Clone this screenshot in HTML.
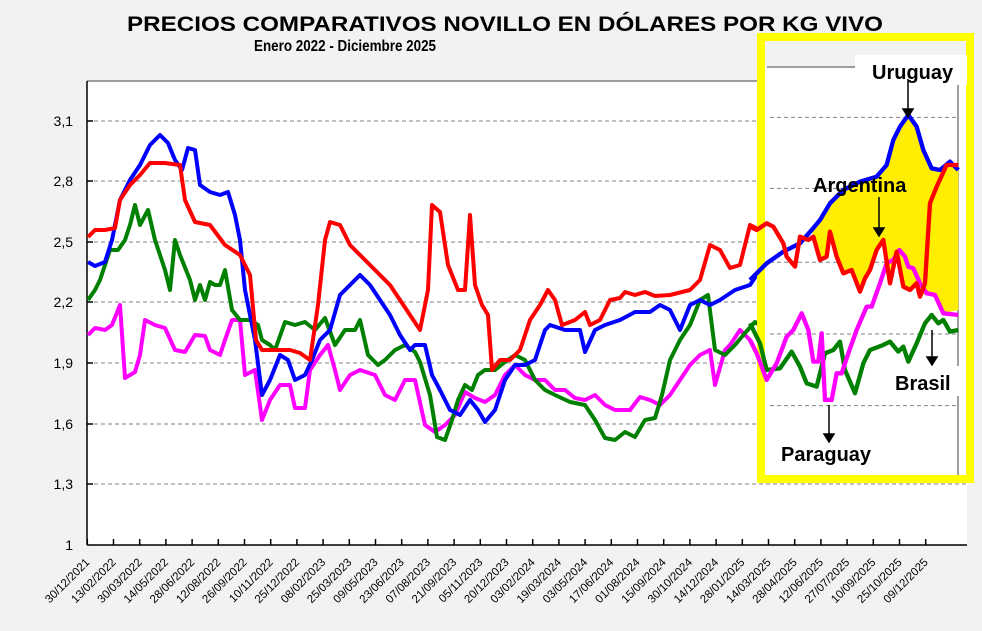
<!DOCTYPE html>
<html><head><meta charset="utf-8"><style>html,body{margin:0;padding:0;background:#f2f2f2}svg{display:block}text{font-family:"Liberation Sans",sans-serif}</style></head>
<body>
<svg width="982" height="631" viewBox="0 0 982 631" xmlns="http://www.w3.org/2000/svg">
<rect width="982" height="631" fill="#f2f2f2"/>
<text x="127" y="31" font-size="21" font-weight="bold" textLength="756" lengthAdjust="spacingAndGlyphs">PRECIOS COMPARATIVOS NOVILLO EN DÓLARES POR KG  VIVO</text>
<text x="254" y="51" font-size="16" font-weight="bold" textLength="182" lengthAdjust="spacingAndGlyphs">Enero  2022 -  Diciembre 2025</text>
<rect x="87" y="81" width="880" height="464" fill="#fff"/>
<line x1="87" y1="81" x2="967" y2="81" stroke="#808080" stroke-width="1.5"/>
<g stroke="#808080" stroke-dasharray="4,3" stroke-width="1">
<line x1="87" y1="121" x2="967" y2="121"/><line x1="87" y1="181" x2="967" y2="181"/><line x1="87" y1="242" x2="967" y2="242"/><line x1="87" y1="302" x2="967" y2="302"/><line x1="87" y1="363" x2="967" y2="363"/><line x1="87" y1="424" x2="967" y2="424"/><line x1="87" y1="484" x2="967" y2="484"/>
</g>
<g stroke="#000" stroke-width="1.5"><line x1="87" y1="81" x2="87" y2="545"/><line x1="87" y1="545" x2="967" y2="545"/>
<line x1="87" y1="121" x2="93" y2="121"/><line x1="87" y1="181" x2="93" y2="181"/><line x1="87" y1="242" x2="93" y2="242"/><line x1="87" y1="302" x2="93" y2="302"/><line x1="87" y1="363" x2="93" y2="363"/><line x1="87" y1="424" x2="93" y2="424"/><line x1="87" y1="484" x2="93" y2="484"/></g>
<g font-size="14" text-anchor="end" fill="#000">
<text x="73" y="126">3,1</text><text x="73" y="186">2,8</text><text x="73" y="247">2,5</text><text x="73" y="307">2,2</text><text x="73" y="368">1,9</text><text x="73" y="429">1,6</text><text x="73" y="489">1,3</text><text x="73" y="550">1</text>
</g>
<g id="xt" font-size="11.5" text-anchor="end" fill="#000"></g>
<g fill="none" stroke-width="4" stroke-linejoin="round">
<polyline stroke="#ff00ff" points="88,335 95,328 105,330 112,325 120,305 125,378 135,372 140,355 145,320 155,325 165,328 175,350 185,352 195,335 205,336 210,350 220,355 225,340 232,320 240,320 245,375 255,370 262,420 270,400 280,385 290,385 295,408 305,408 310,370 320,355 328,345 335,370 340,390 350,375 360,370 375,375 385,395 395,400 405,380 415,380 425,425 435,432 445,425 455,415 465,392 475,398 485,402 495,395 505,375 515,365 525,375 535,380 545,380 555,390 565,390 575,398 585,400 595,395 605,405 615,410 630,410 640,397 650,400 660,405 670,395 680,380 690,365 700,355 710,350 715,385 725,350 730,345 740,330 750,340 760,360"/>
<polyline stroke="#008000" points="88,300 95,290 100,280 110,250 118,250 125,240 130,225 135,205 140,225 148,210 155,240 165,270 170,290 175,240 180,255 190,280 195,300 200,285 205,300 210,282 215,285 220,285 225,270 232,310 240,320 250,320 258,325 262,340 270,345 275,350 285,322 295,325 305,322 315,330 325,318 335,345 345,330 355,330 360,320 368,355 378,365 385,360 395,350 405,345 415,352 420,362 430,395 437,437 445,440 452,420 458,400 465,385 472,390 478,375 485,370 495,370 505,362 515,355 525,360 535,380 545,390 555,395 570,402 585,405 595,420 605,438 615,440 625,432 635,437 645,420 655,418 662,395 670,360 680,340 690,325 700,300 708,295 715,350 725,355 735,345 745,333 755,322 760,325"/>
<polyline stroke="#0000ff" points="88,262 95,266 105,262 112,240 120,200 130,180 140,165 150,145 160,135 168,143 175,160 182,170 188,148 195,150 200,185 210,192 220,195 228,192 235,215 240,240 245,290 255,340 262,395 270,380 280,355 288,360 295,380 305,375 312,360 320,340 330,330 340,295 350,285 360,275 370,285 380,300 390,315 400,335 410,350 415,345 425,345 432,375 440,390 450,410 460,415 470,400 478,410 485,422 495,410 505,380 515,365 525,365 535,360 545,330 550,325 565,330 580,330 585,352 595,330 605,325 620,320 635,312 650,312 660,305 670,310 680,330 690,305 700,300 710,305 720,300 735,290 750,285 760,270"/>
<polyline stroke="#ff0000" points="88,237 95,230 105,230 115,228 120,200 130,185 140,175 150,163 165,163 180,165 185,200 195,222 210,225 225,245 240,255 250,275 256,340 262,350 275,350 290,350 300,353 310,360 318,305 325,240 330,222 340,225 350,245 360,255 370,265 380,275 390,285 400,300 410,315 420,330 428,290 432,205 440,212 448,265 458,290 465,290 470,215 475,285 482,305 488,315 492,370 500,360 510,360 520,350 530,320 540,305 548,290 555,300 562,325 575,320 585,312 590,325 600,320 610,300 620,298 625,292 635,295 645,292 655,296 670,295 690,290 700,280 710,245 720,250 730,268 740,265 750,225 760,230"/>
</g>
<!-- inset -->
<rect x="761" y="37" width="209" height="442" fill="#fff" stroke="#ffff00" stroke-width="8"/>
<rect x="765" y="41" width="201" height="26" fill="#f2f2f2"/>
<line x1="767" y1="67" x2="855" y2="67" stroke="#808080" stroke-width="1.5"/>
<line x1="958" y1="85" x2="958" y2="475" stroke="#808080" stroke-width="1.5"/>
<g transform="translate(750,30) scale(0.3333)">
<g stroke="#808080" stroke-dasharray="12,9" stroke-width="3"><line x1="60" y1="262" x2="625" y2="262"/><line x1="60" y1="475" x2="625" y2="475"/><line x1="60" y1="697" x2="625" y2="697"/><line x1="60" y1="912" x2="625" y2="912"/><line x1="60" y1="1127" x2="625" y2="1127"/></g>
<polygon fill="#ffee00" points="185,600 210,570 240,520 280,480 330,455 380,440 410,405 430,330 450,290 475,255 500,290 520,360 545,415 570,420 600,395 625,420 625,840 580,850 555,795 530,790 510,800 500,760 480,780 460,770 440,665 420,760 400,630 380,660 360,720 345,745 330,785 305,720 280,730 260,680 240,605 230,680 210,690 190,620"/>
<g fill="none" stroke-width="13" stroke-linejoin="round">
<polyline stroke="#008000" points="0,880 30,940 50,1020 90,1015 125,965 150,1010 170,1060 200,1070 225,970 250,960 270,935 285,1020 315,1090 340,1000 360,960 400,945 420,935 445,965 460,950 475,995 500,940 525,880 545,855 565,880 580,870 600,905 625,900"/>
<polyline stroke="#ff00ff" points="0,930 20,970 50,1050 80,1000 110,920 130,900 155,850 175,900 190,995 205,995 215,910 225,1110 245,1110 260,1030 275,1030 295,970 320,900 350,830 365,830 390,760 410,700 430,690 448,660 465,680 475,710 490,715 510,760 530,790 555,795 580,850 625,855"/>
<polyline stroke="#0000ff" points="0,750 50,700 100,665 150,640 185,600 210,570 240,520 280,480 330,455 380,440 410,405 430,330 450,290 475,255 500,290 520,360 545,415 570,420 600,395 625,420"/>
<polyline stroke="#ff0000" points="0,590 20,600 50,580 70,590 100,640 110,680 135,710 150,620 175,630 190,620 210,690 230,680 240,605 260,680 280,730 305,720 330,785 345,745 360,720 380,660 400,630 420,760 440,665 460,770 480,780 500,760 510,800 525,760 540,520 560,470 590,405 625,405"/>
</g>
</g>
<rect x="855" y="55" width="112" height="30" fill="#fff"/>
<g font-size="20" font-weight="bold" fill="#000">
<text x="872" y="79">Uruguay</text>
<text x="813" y="192">Argentina</text>
<rect x="893" y="366" width="70" height="30" fill="#fff"/>
<text x="895" y="390">Brasil</text>
<text x="781" y="461">Paraguay</text>
</g>
<g stroke="#000" stroke-width="1.5" fill="#000">
<line x1="908" y1="79" x2="908" y2="110"/><polygon points="903,109 913,109 908,117"/>
<line x1="879" y1="197" x2="879" y2="229"/><polygon points="874,228 884,228 879,236"/>
<line x1="932" y1="330" x2="932" y2="358"/><polygon points="927,357 937,357 932,365"/>
<line x1="829" y1="405" x2="829" y2="435"/><polygon points="824,434 834,434 829,442"/>
</g>
</svg>
<script>
var L=["30/12/2021","13/02/2022","30/03/2022","14/05/2022","28/06/2022","12/08/2022","26/09/2022","10/11/2022","25/12/2022","08/02/2023","25/03/2023","09/05/2023","23/06/2023","07/08/2023","21/09/2023","05/11/2023","20/12/2023","03/02/2024","19/03/2024","03/05/2024","17/06/2024","01/08/2024","15/09/2024","30/10/2024","14/12/2024","28/01/2025","14/03/2025","28/04/2025","12/06/2025","27/07/2025","10/09/2025","25/10/2025","09/12/2025"];
var g=document.getElementById('xt'),ns="http://www.w3.org/2000/svg",s=g.parentNode;
for(var i=0;i<L.length;i++){var x=87.3+i*26.2;
var t=document.createElementNS(ns,'text');t.setAttribute('transform','translate('+(x+3)+',563) rotate(-45)');t.textContent=L[i];g.appendChild(t);
var l=document.createElementNS(ns,'line');l.setAttribute('x1',x);l.setAttribute('x2',x);l.setAttribute('y1',539);l.setAttribute('y2',545);l.setAttribute('stroke','#000');l.setAttribute('stroke-width','1.5');s.insertBefore(l,g);}
</script>
</body></html>
